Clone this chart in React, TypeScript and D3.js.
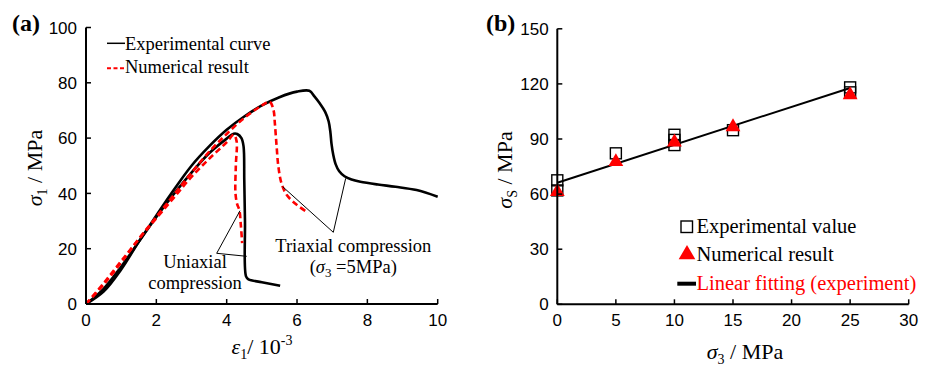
import React from "react";
import * as d3 from "d3";

// ---------- Panel (a) data: stress-strain curves ----------
const triExpStrain = [0, 0.5, 1, 1.5, 2, 2.4, 3, 3.5, 4, 4.5, 5, 5.5, 6, 6.35, 6.5, 6.65, 6.8, 6.9, 6.95, 6.98, 7.03, 7.1, 7.2, 7.35, 7.55, 7.8, 8.3, 8.8, 9.4, 10];
const triExpStress = [0, 4.5, 12.5, 22.5, 32, 39.5, 50, 57, 63, 67.8, 71.8, 74.8, 76.8, 77.1, 75, 72.5, 69.5, 66, 62, 58, 54, 50.5, 48, 46.2, 45, 44.2, 43.2, 42.4, 41.2, 38.8];

const uniExpStrain = [0, 0.5, 1, 1.5, 2, 2.5, 3, 3.5, 4, 4.2, 4.3, 4.42, 4.48, 4.5, 4.52, 4.55, 4.62, 5, 5.52];
const uniExpStress = [0, 5.5, 13.5, 22.5, 31.5, 39.8, 47.5, 54.5, 59.8, 61.6, 61.5, 60, 57, 45, 30, 10, 8.9, 7.9, 6.6];

const triNumStrain = [0, 0.5, 1, 1.5, 2, 2.5, 3, 3.5, 4, 4.5, 5, 5.22, 5.33, 5.37, 5.42, 5.47, 5.56, 5.71, 6.0, 6.32];
const triNumStress = [0, 7, 15, 23.5, 31.5, 39.5, 47.5, 55, 61.5, 67.3, 71.8, 73.2, 70.2, 65.3, 57, 49.7, 43.6, 39.4, 35.8, 33];

const uniNumStrain = [0, 0.5, 1, 1.5, 2, 2.5, 3, 3.5, 4, 4.2, 4.28, 4.26, 4.25, 4.3, 4.36, 4.4, 4.44];
const uniNumStress = [0, 7.5, 15.5, 23.5, 31, 38.5, 46, 52.5, 58.5, 61.2, 59, 50, 40, 36, 34, 29, 22];

const aXTicks = [0, 2, 4, 6, 8, 10];
const aYTicks = [0, 20, 40, 60, 80, 100];

// ---------- Panel (b) data ----------
const expSigma3 = [0, 0, 5, 10, 10, 10, 15, 25, 25];
const expStrength = [67.5, 62, 82.2, 92.3, 89.5, 86.7, 94.8, 118.1, 115.4];
const numSigma3 = [0, 5, 10, 15, 25];
const numStrength = [61.3, 77.6, 88.3, 96.6, 114];
const fitSigma3 = [0, 25];
const fitStrength = [66.2, 117.8];

const bXTicks = [0, 5, 10, 15, 20, 25, 30];
const bYTicks = [0, 30, 60, 90, 120, 150];

const SERIF = "'Liberation Serif', 'Times New Roman', serif";
const SANS = "'Liberation Sans', Arial, sans-serif";

type Pt = [number, number];
const zip = (xs: number[], ys: number[]): Pt[] => xs.map((x, i) => [x, ys[i]]);

export default function App() {
  const W = 933, H = 366;

  const xA = d3.scaleLinear().domain([0, 10]).range([86, 437.7]);
  const yA = d3.scaleLinear().domain([0, 100]).range([304, 27.5]);
  const xB = d3.scaleLinear().domain([0, 30]).range([557.3, 908.7]);
  const yB = d3.scaleLinear().domain([0, 150]).range([304.3, 28.8]);

  const lineA = d3
    .line<Pt>()
    .x((d) => xA(d[0]))
    .y((d) => yA(d[1]))
    .curve(d3.curveCatmullRom.alpha(0.5));
  const lineB = d3
    .line<Pt>()
    .x((d) => xB(d[0]))
    .y((d) => yB(d[1]));

  const tri = d3.symbol().type(d3.symbolTriangle).size(95)();
  const tickLen = 5;

  return (
    <>
      <style>{`body{margin:0;}`}</style>
      <svg width={W} height={H} style={{ display: "block", background: "#fff" }}>
        {/* ================= Panel (a) ================= */}
        <text x={12} y={31} fontFamily={SERIF} fontWeight="bold" fontSize={24}>(a)</text>

        {/* curves */}
        <path d={lineA(zip(triExpStrain, triExpStress)) || ""} fill="none" stroke="#000" strokeWidth={2.6} strokeLinejoin="round" />
        <path d={lineA(zip(uniExpStrain, uniExpStress)) || ""} fill="none" stroke="#000" strokeWidth={2.6} strokeLinejoin="round" />
        <path d={lineA(zip(triNumStrain, triNumStress)) || ""} fill="none" stroke="#ff0000" strokeWidth={2.6} strokeDasharray="6,3.5" />
        <path d={lineA(zip(uniNumStrain, uniNumStress)) || ""} fill="none" stroke="#ff0000" strokeWidth={2.6} strokeDasharray="6,3.5" />

        {/* axes */}
        <line x1={xA(0)} x2={xA(0)} y1={yA(100)} y2={yA(0)} stroke="#000" strokeWidth={2} />
        <line x1={xA(0)} x2={xA(10)} y1={yA(0)} y2={yA(0)} stroke="#000" strokeWidth={2} />
        {aYTicks.map((t) => (
          <g key={"ay" + t}>
            <line x1={xA(0)} x2={xA(0) + tickLen} y1={yA(t)} y2={yA(t)} stroke="#000" strokeWidth={1.5} />
            <text x={xA(0) - 9} y={yA(t)} dy="0.36em" textAnchor="end" fontFamily={SANS} fontSize={17}>{t}</text>
          </g>
        ))}
        {aXTicks.map((t) => (
          <g key={"ax" + t}>
            <line x1={xA(t)} x2={xA(t)} y1={yA(0)} y2={yA(0) - tickLen} stroke="#000" strokeWidth={1.5} />
            <text x={xA(t)} y={325.5} textAnchor="middle" fontFamily={SANS} fontSize={17}>{t}</text>
          </g>
        ))}

        {/* axis titles */}
        <text transform="translate(42,168) rotate(-90)" textAnchor="middle" fontFamily={SERIF} fontSize={22}>
          <tspan fontStyle="italic">σ</tspan>
          <tspan fontSize={14} dy={5}>1</tspan>
          <tspan dy={-5}> / MPa</tspan>
        </text>
        <text x={262} y={354} textAnchor="middle" fontFamily={SERIF} fontSize={22}>
          <tspan fontStyle="italic">ε</tspan>
          <tspan fontSize={14} dy={5}>1</tspan>
          <tspan dy={-5}>/ 10</tspan>
          <tspan fontSize={14} dy={-9}>-3</tspan>
        </text>

        {/* legend (a) */}
        <line x1={107} x2={125} y1={43.3} y2={43.3} stroke="#000" strokeWidth={1.5} />
        <text x={125} y={50} fontFamily={SERIF} fontSize={18.5}>Experimental curve</text>
        <line x1={107} x2={125} y1={68.3} y2={68.3} stroke="#ff0000" strokeWidth={2} strokeDasharray="4,2.5" />
        <text x={125} y={72.7} fontFamily={SERIF} fontSize={18.5}>Numerical result</text>

        {/* annotations (a) */}
        <line x1={216.7} y1={253.3} x2={240} y2={210.7} stroke="#000" strokeWidth={1} />
        <line x1={216.7} y1={253.3} x2={246.7} y2={256.3} stroke="#000" strokeWidth={1} />
        <text x={195} y={268} textAnchor="middle" fontFamily={SERIF} fontSize={18.5}>Uniaxial</text>
        <text x={195} y={289} textAnchor="middle" fontFamily={SERIF} fontSize={18.5}>compression</text>

        <line x1={333.3} y1={232.3} x2={282.7} y2={186.7} stroke="#000" strokeWidth={1} />
        <line x1={333.3} y1={232.3} x2={345.7} y2={178.3} stroke="#000" strokeWidth={1} />
        <text x={353.3} y={251.7} textAnchor="middle" fontFamily={SERIF} fontSize={18.5}>Triaxial compression</text>
        <text x={353.3} y={273.3} textAnchor="middle" fontFamily={SERIF} fontSize={18.5}>
          <tspan>(</tspan>
          <tspan fontStyle="italic">σ</tspan>
          <tspan fontSize={13} dy={4}>3</tspan>
          <tspan dy={-4}> =5MPa)</tspan>
        </text>

        {/* ================= Panel (b) ================= */}
        <text x={486} y={31} fontFamily={SERIF} fontWeight="bold" fontSize={24}>(b)</text>

        {/* fit line */}
        <path d={lineB(zip(fitSigma3, fitStrength)) || ""} fill="none" stroke="#000" strokeWidth={2} />

        {/* experimental squares */}
        {expSigma3.map((s, i) => (
          <rect key={"sq" + i} x={xB(s) - 5.5} y={yB(expStrength[i]) - 5.5} width={11} height={11} fill="none" stroke="#000" strokeWidth={1.4} />
        ))}
        {/* numerical triangles */}
        {numSigma3.map((s, i) => (
          <path key={"tr" + i} d={tri || ""} transform={`translate(${xB(s)},${yB(numStrength[i])})`} fill="#ff0000" />
        ))}

        {/* axes */}
        <line x1={xB(0)} x2={xB(0)} y1={yB(150)} y2={yB(0)} stroke="#000" strokeWidth={2} />
        <line x1={xB(0)} x2={xB(30)} y1={yB(0)} y2={yB(0)} stroke="#000" strokeWidth={2} />
        {bYTicks.map((t) => (
          <g key={"by" + t}>
            <line x1={xB(0)} x2={xB(0) + tickLen} y1={yB(t)} y2={yB(t)} stroke="#000" strokeWidth={1.5} />
            <text x={xB(0) - 8.6} y={yB(t)} dy="0.36em" textAnchor="end" fontFamily={SANS} fontSize={17}>{t}</text>
          </g>
        ))}
        {bXTicks.map((t) => (
          <g key={"bx" + t}>
            <line x1={xB(t)} x2={xB(t)} y1={yB(0)} y2={yB(0) - tickLen} stroke="#000" strokeWidth={1.5} />
            <text x={xB(t)} y={326} textAnchor="middle" fontFamily={SANS} fontSize={17}>{t}</text>
          </g>
        ))}

        {/* axis titles */}
        <text transform="translate(512,170) rotate(-90)" textAnchor="middle" fontFamily={SERIF} fontSize={22}>
          <tspan fontStyle="italic">σ</tspan>
          <tspan fontSize={14} dy={5}>S</tspan>
          <tspan dy={-5}> / MPa</tspan>
        </text>
        <text x={745} y={359} textAnchor="middle" fontFamily={SERIF} fontSize={22}>
          <tspan fontStyle="italic">σ</tspan>
          <tspan fontSize={14} dy={5}>3</tspan>
          <tspan dy={-5}> / MPa</tspan>
        </text>

        {/* legend (b) */}
        <rect x={681} y={221} width={11.5} height={11.5} fill="none" stroke="#000" strokeWidth={1.4} />
        <text x={696.5} y={233.3} fontFamily={SERIF} fontSize={20.5}>Experimental value</text>
        <path d={d3.symbol().type(d3.symbolTriangle).size(120)() || ""} transform="translate(687,254.5)" fill="#ff0000" />
        <text x={696.5} y={261} fontFamily={SERIF} fontSize={20.5}>Numerical result</text>
        <line x1={677.3} x2={696} y1={283.7} y2={283.7} stroke="#000" strokeWidth={4} />
        <text x={696.5} y={290} fontFamily={SERIF} fontSize={20.5} fill="#ff0000">Linear fitting (experiment)</text>
      </svg>
    </>
  );
}
